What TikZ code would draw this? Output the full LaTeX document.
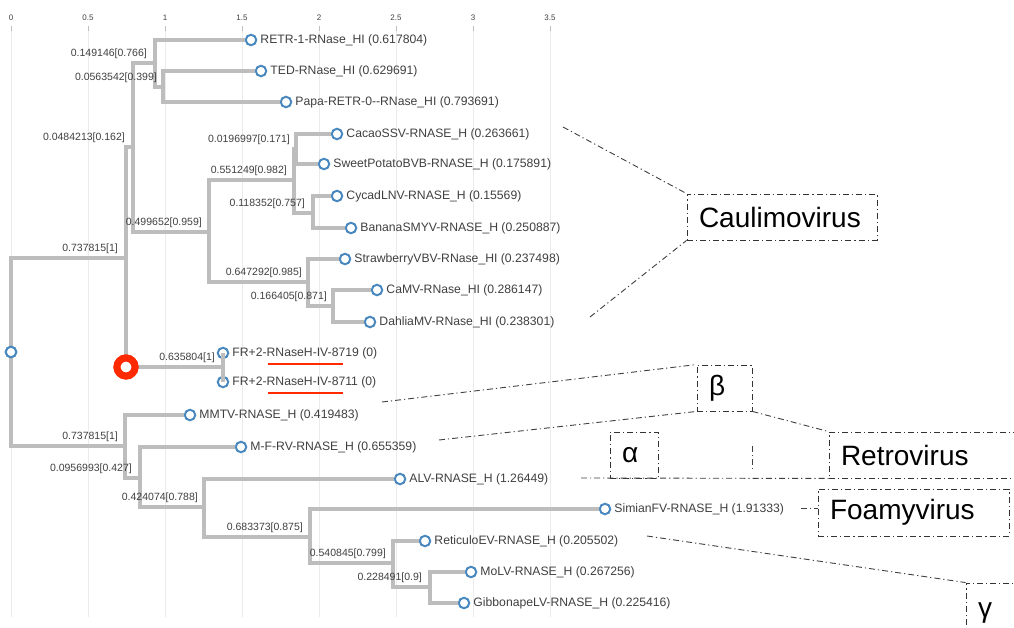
\documentclass[tikz,border=0pt]{standalone}
\usepackage{fontspec}
\setmainfont{Liberation Sans}
\usepackage{tikz}
\usepackage{xcolor}
\usetikzlibrary{positioning}

\definecolor{branchgray}{HTML}{BDBDBD}
\definecolor{leafblue}{HTML}{4A89C0}
\definecolor{selred}{HTML}{FF2A00}
\definecolor{gridgray}{HTML}{EBEBEB}
\definecolor{textgray}{HTML}{404040}

\begin{document}
\begin{tikzpicture}[
    x=1pt,y=-1pt,
    branch/.style={draw=branchgray,line width=4.8pt},
    leaf/.style={circle,draw=leafblue,fill=white,line width=2pt,minimum size=10.5pt,inner sep=0pt},
    leaftext/.style={text=textgray,font=\fontsize{12.2}{14}\selectfont,inner sep=1pt,label distance=2pt},
    blabel/.style={text=textgray,font=\fontsize{10.5}{12}\selectfont,inner sep=0pt},
    selected/.style={circle,draw=selred,fill=white,line width=7pt,minimum size=18pt,inner sep=0pt},
    cladebox/.style={draw=black!80,dash pattern=on 6pt off 3pt on 1.2pt off 3pt,line width=0.9pt,align=left,inner xsep=12pt,inner ysep=0pt,minimum height=46pt,font=\fontsize{28}{30}\selectfont},
    leader/.style={draw=black!75,dash pattern=on 6pt off 3pt on 1.2pt off 3pt,line width=0.9pt},
    underl/.style={draw=selred,line width=1.6pt},
    gridline/.style={draw=gridgray,line width=1pt},
    ticktext/.style={text=textgray,font=\fontsize{8}{9}\selectfont}
]
    \clip (0,0) rectangle (1014,628);
    \fill[white] (0,0) rectangle (1014,628);
    % Axis and grid
    \foreach \v in {0,0.5,1,1.5,2,2.5,3,3.5} {
        \draw[gridline] (11+154*\v,30) -- (11+154*\v,617);
        \draw[gridline,draw=black!25] (11+154*\v,26) -- (11+154*\v,31);
        \node[ticktext] at (11+154*\v,18) {\v};
    }
    % Internal nodes
    \coordinate (nA) at (126,258);
    \coordinate (nB) at (125,446);
    \coordinate (nC) at (133,147);
    \coordinate (nD) at (155,63);
    \coordinate (nF) at (163,87);
    \coordinate (nE) at (209,232);
    \coordinate (nG) at (294,180);
    \coordinate (nI) at (296,149);
    \coordinate (nJ) at (313,213);
    \coordinate (nH) at (308,282);
    \coordinate (nK) at (333,306);
    \coordinate (nFR) at (223,367);
    \coordinate (nL) at (140,478);
    \coordinate (nM) at (204,507);
    \coordinate (nN) at (310,537);
    \coordinate (nO) at (393,563);
    \coordinate (nP) at (430,587);
    % Branches
    \draw[branch] (11,352) |- (nA);
    \draw[branch] (11,352) |- (nB);
    \draw[branch] (nA) |- (nC);
    \draw[branch] (nA) -- (126,367);
    \draw[branch] (126,367) -- (nFR);
    \draw[branch] (nC) |- (nD);
    \draw[branch] (nC) |- (nE);
    \draw[branch] (nD) |- (nF);
    \draw[branch] (nE) |- (nG);
    \draw[branch] (nE) |- (nH);
    \draw[branch] (nG) |- (nI);
    \draw[branch] (nG) |- (nJ);
    \draw[branch] (nH) |- (nK);
    \draw[branch] (nB) |- (nL);
    \draw[branch] (nL) |- (nM);
    \draw[branch] (nM) |- (nN);
    \draw[branch] (nN) |- (nO);
    \draw[branch] (nO) |- (nP);
    % Root and selected node
    \node[leaf] (root) at (11,352) {};
    \node[selected] (sel) at (126,367) {};
    % Leaves
    \node[leaf,label={[leaftext]right:RETR-1-RNase\_HI (0.617804)}] (retr) at (251,40) {};
    \node[leaf,label={[leaftext]right:TED-RNase\_HI (0.629691)}] (ted) at (261,71) {};
    \node[leaf,label={[leaftext]right:Papa-RETR-0-{}-RNase\_HI (0.793691)}] (papa) at (286,102) {};
    \node[leaf,label={[leaftext]right:CacaoSSV-RNASE\_H (0.263661)}] (cacao) at (337,134) {};
    \node[leaf,label={[leaftext]right:SweetPotatoBVB-RNASE\_H (0.175891)}] (sweet) at (324,164) {};
    \node[leaf,label={[leaftext]right:CycadLNV-RNASE\_H (0.15569)}] (cycad) at (337,196) {};
    \node[leaf,label={[leaftext]right:BananaSMYV-RNASE\_H (0.250887)}] (banana) at (351,228) {};
    \node[leaf,label={[leaftext]right:StrawberryVBV-RNase\_HI (0.237498)}] (straw) at (345,259) {};
    \node[leaf,label={[leaftext]right:CaMV-RNase\_HI (0.286147)}] (camv) at (377,290) {};
    \node[leaf,label={[leaftext]right:DahliaMV-RNase\_HI (0.238301)}] (dahlia) at (370,322) {};
    \node[leaf,label={[leaftext]right:FR+2-RNaseH-IV-8719 (0)}] (fra) at (223,353) {};
    \node[leaf,label={[leaftext]right:FR+2-RNaseH-IV-8711 (0)}] (frb) at (223,382) {};
    \node[leaf,label={[leaftext]right:MMTV-RNASE\_H (0.419483)}] (mmtv) at (190,415) {};
    \node[leaf,label={[leaftext]right:M-F-RV-RNASE\_H (0.655359)}] (mfrv) at (241,447) {};
    \node[leaf,label={[leaftext]right:ALV-RNASE\_H (1.26449)}] (alv) at (400,479) {};
    \node[leaf,label={[leaftext]right:SimianFV-RNASE\_H (1.91333)}] (simian) at (605,509) {};
    \node[leaf,label={[leaftext]right:ReticuloEV-RNASE\_H (0.205502)}] (reticulo) at (425,541) {};
    \node[leaf,label={[leaftext]right:MoLV-RNASE\_H (0.267256)}] (molv) at (471,572) {};
    \node[leaf,label={[leaftext]right:GibbonapeLV-RNASE\_H (0.225416)}] (gibbon) at (464,603) {};
    \draw[branch] (nD) |- (retr);
    \draw[branch] (nF) |- (ted);
    \draw[branch] (nF) |- (papa);
    \draw[branch] (nI) |- (cacao);
    \draw[branch] (nI) |- (sweet);
    \draw[branch] (nJ) |- (cycad);
    \draw[branch] (nJ) |- (banana);
    \draw[branch] (nH) |- (straw);
    \draw[branch] (nK) |- (camv);
    \draw[branch] (nK) |- (dahlia);
    \draw[branch] (nFR) |- (fra);
    \draw[branch] (nFR) |- (frb);
    \draw[branch] (nB) |- (mmtv);
    \draw[branch] (nL) |- (mfrv);
    \draw[branch] (nM) |- (alv);
    \draw[branch] (nN) |- (simian);
    \draw[branch] (nO) |- (reticulo);
    \draw[branch] (nP) |- (molv);
    \draw[branch] (nP) |- (gibbon);
    \node[leaf] at (root) {};
    \node[selected] at (sel) {};
    % Branch labels
    \node[blabel,above left=4pt and 8pt of nA] (lA) {0.737815[1]};
    \node[blabel,above left=4pt and 8pt of nC] (lC) {0.0484213[0.162]};
    \node[blabel,above left=4pt and 8pt of nD] (lD) {0.149146[0.766]};
    \node[blabel,above left=4pt and 6pt of nF] (lF) {0.0563542[0.399]};
    \node[blabel,above left=4pt and 7pt of nE] (lE) {0.499652[0.959]};
    \node[blabel,above left=4pt and 7pt of nG] (lG) {0.551249[0.982]};
    \node[blabel,above left=4pt and 6pt of nI] (lI) {0.0196997[0.171]};
    \node[blabel,above left=4pt and 8pt of nJ] (lJ) {0.118352[0.757]};
    \node[blabel,above left=4pt and 6pt of nH] (lH) {0.647292[0.985]};
    \node[blabel,above left=4pt and 6pt of nK] (lK) {0.166405[0.871]};
    \node[blabel,above left=4pt and 8pt of nFR] (lFR) {0.635804[1]};
    \node[blabel,above left=4pt and 7pt of nB] (lB) {0.737815[1]};
    \node[blabel,above left=4pt and 8pt of nL] (lL) {0.0956993[0.427]};
    \node[blabel,above left=4pt and 6pt of nM] (lM) {0.424074[0.788]};
    \node[blabel,above left=4pt and 7pt of nN] (lN) {0.683373[0.875]};
    \node[blabel,above left=4pt and 7pt of nO] (lO) {0.540845[0.799]};
    \node[blabel,above left=4pt and 8pt of nP] (lP) {0.228491[0.9]};
    % Red marks under the query names
    \draw[underl] (268,364) -- (343,364);
    \draw[underl] (268,393) -- (343,393);
    % Clade boxes
    \node[cladebox,text width=166pt] (caul) at (782,217) {Caulimovirus};
    \node[cladebox,text width=31pt] (beta) at (724.5,388) {β};
    \node[cladebox,text width=24pt] (alpha) at (634,455) {α};
    \node[cladebox,text width=200pt] (retro) at (941,455) {Retrovirus};
    \node[cladebox,text width=167pt,minimum height=47pt] (foamy) at (913.5,512.5) {Foamyvirus};
    \node[cladebox,text width=60pt,minimum height=60pt] (gamma) at (1008,613) {γ};
    % Leaders
    \coordinate (caulT) at (563,127);
    \coordinate (caulB) at (590,317);
    \coordinate (betaT) at (382,402);
    \coordinate (betaB) at (439,440);
    \coordinate (retroL) at (581,478);
    \coordinate (tickA) at (752,446);
    \coordinate (tickB) at (752,470);
    \coordinate (foamL) at (801,508);
    \coordinate (gammaL) at (647,536);
    \draw[leader] (caulT) -- (caul.north west);
    \draw[leader] (caulB) -- (caul.south west);
    \draw[leader] (betaT) -- (beta.north west);
    \draw[leader] (betaB) -- (beta.south west);
    \draw[leader] (beta.south east) -- (retro.north west);
    \draw[leader] (retroL) -- (retro.south west);
    \draw[leader] (tickA) -- (tickB);
    \draw[leader] (foamL) -- (foamL -| foamy.west);
    \draw[leader] (gammaL) -- (gamma.north west);
\end{tikzpicture}
\end{document}
